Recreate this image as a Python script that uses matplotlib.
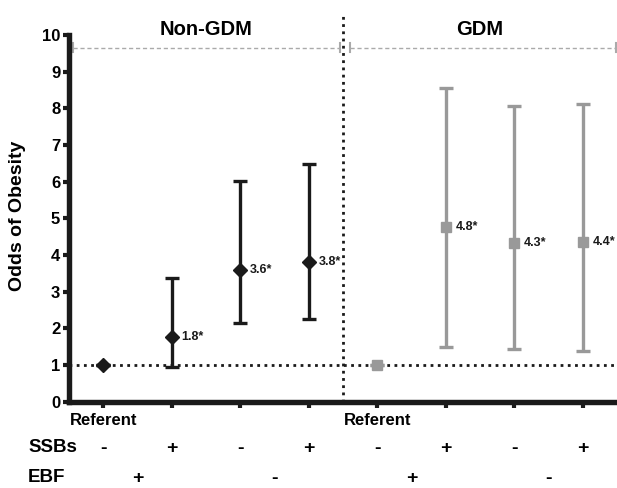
import matplotlib
matplotlib.use("Agg")
import matplotlib.pyplot as plt

plt.rcParams['font.family'] = ['Liberation Sans', 'DejaVu Sans']

# Data
positions = [1, 2, 3, 4, 5, 6, 7, 8]
non_gdm_x = [1, 2, 3, 4]
non_gdm_or = [1.0, 1.77, 3.6, 3.8]
non_gdm_lo = [1.0, 0.93, 2.15, 2.25]
non_gdm_hi = [1.0, 3.37, 6.03, 6.47]
non_gdm_lbl = ["", "1.8*", "3.6*", "3.8*"]

gdm_x = [5, 6, 7, 8]
gdm_or = [1.0, 4.75, 4.32, 4.36]
gdm_lo = [1.0, 1.5, 1.42, 1.39]
gdm_hi = [1.0, 8.56, 8.05, 8.13]
gdm_lbl = ["", "4.8*", "4.3*", "4.4*"]

ssb_labels = ["-", "+", "-", "+", "-", "+", "-", "+"]
ebf_pos = [1.5, 3.5, 5.5, 7.5]
ebf_labels = ["+", "-", "+", "-"]
referent_pos = [1, 5]
group_titles = ["Non-GDM", "GDM"]
group_centers = [2.5, 6.5]

fig = plt.figure(figsize=(6.17, 4.88), dpi=100)
ax = fig.add_axes([69 / 617, 86.5 / 488, 548 / 617, 366.5 / 488])
ax.set_xlim(0.5, 8.5)
ax.set_ylim(0, 10)

black = "#1a1a1a"
gray = "#999999"
lgray = "#aaaaaa"

# reference lines
ax.axhline(1, color=black, linestyle=(0, (1, 1.6)), linewidth=2.0, zorder=1)
ax.plot([4.5, 4.5], [0, 10.57], color=black, linestyle=(0, (1, 1.6)), linewidth=2.0,
        clip_on=False, zorder=1)

# gray dashed bracket lines
ax.plot([0.56, 4.45], [9.65, 9.65], color=lgray, linestyle=(0, (3, 2)), linewidth=1.0, clip_on=False)
ax.plot([4.6, 8.48], [9.65, 9.65], color=lgray, linestyle=(0, (3, 2)), linewidth=1.0, clip_on=False)
for xc in [0.56, 4.45, 4.6, 8.48]:
    ax.plot([xc, xc], [9.53, 9.77], color=lgray, linewidth=1.5, clip_on=False)

# Non-GDM
yerr_n = [[o - l for o, l in zip(non_gdm_or, non_gdm_lo)],
          [h - o for o, h in zip(non_gdm_or, non_gdm_hi)]]
ax.errorbar(non_gdm_x, non_gdm_or, yerr=yerr_n, fmt='D', color=black, ecolor=black,
            markersize=7, elinewidth=2.4, capsize=4.8, capthick=2.4, zorder=3)
# GDM
yerr_g = [[o - l for o, l in zip(gdm_or, gdm_lo)],
          [h - o for o, h in zip(gdm_or, gdm_hi)]]
ax.errorbar(gdm_x, gdm_or, yerr=yerr_g, fmt='s', color=gray, ecolor=gray,
            markersize=7, elinewidth=2.4, capsize=4.8, capthick=2.4, zorder=3)

for x, y, t in zip(non_gdm_x, non_gdm_or, non_gdm_lbl):
    if t:
        ax.text(x + 0.14, y, t, fontsize=9, fontweight='bold', color=black, va='center', ha='left')
for x, y, t in zip(gdm_x, gdm_or, gdm_lbl):
    if t:
        ax.text(x + 0.14, y, t, fontsize=9, fontweight='bold', color=black, va='center', ha='left')

# Axes styling
for s in ['top', 'right']:
    ax.spines[s].set_visible(False)
for s in ['left', 'bottom']:
    ax.spines[s].set_linewidth(3.9)
    ax.spines[s].set_color(black)
ax.set_yticks(range(0, 11))
ax.set_xticks(positions)
ax.set_xticklabels([])
ax.tick_params(axis='both', length=4.3, width=3, color=black, direction='out', pad=2)
for lbl in ax.get_yticklabels():
    lbl.set_fontweight('bold')
    lbl.set_fontsize(12)
fig.text(18 / 617, (488 - 216) / 488, "Odds of Obesity", fontsize=14, fontweight='bold',
         rotation=90, ha='center', va='center')

# Group titles
for c, t in zip(group_centers, group_titles):
    ax.text(c, 10.0, t, fontsize=14.5, fontweight='bold', ha='center', va='baseline', clip_on=False)

# Below-axis labels
trans = ax.get_xaxis_transform()
for p in referent_pos:
    ax.text(p, -0.053, "Referent", transform=trans, fontsize=12, fontweight='bold',
            ha='center', va='center')
fig.text(28 / 617, (488 - 448) / 488, "SSBs", fontsize=13.5, fontweight='bold', va='center', ha='left')
fig.text(28 / 617, (488 - 478) / 488, "EBF", fontsize=13.5, fontweight='bold', va='center', ha='left')
for p, t in zip(positions, ssb_labels):
    ax.text(p, -0.127, t, transform=trans, fontsize=14, fontweight='bold', ha='center', va='center')
for p, t in zip(ebf_pos, ebf_labels):
    ax.text(p, -0.209, t, transform=trans, fontsize=14, fontweight='bold', ha='center', va='center')

fig.savefig("out.png", dpi=100)
